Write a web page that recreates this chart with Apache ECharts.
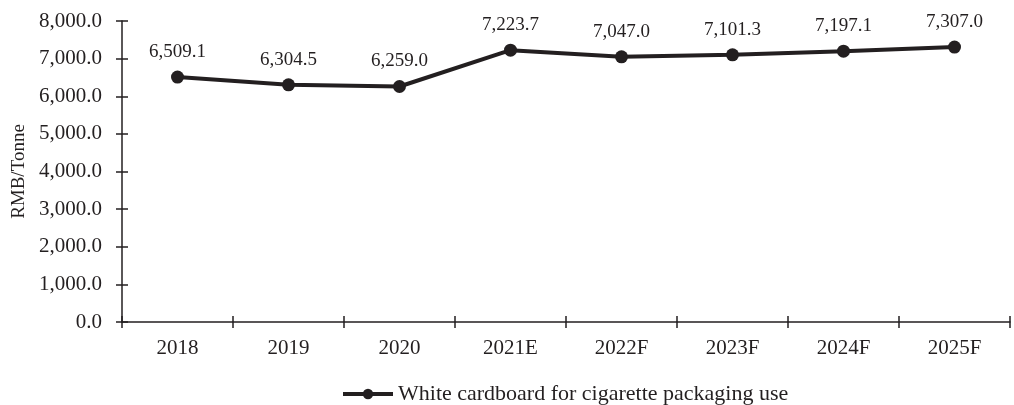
<!DOCTYPE html>
<html>
<head>
<meta charset="utf-8">
<script src="https://cdn.jsdelivr.net/npm/echarts@6/dist/echarts.min.js"></script>
<style>
  html, body { margin: 0; padding: 0; background: #fff; }
  #main { width: 1014px; height: 405px; }
</style>
</head>
<body>
<div id="main"></div>
<script>
// chart data
var years = ['2018', '2019', '2020', '2021E', '2022F', '2023F', '2024F', '2025F'];
var prices = [6509.1, 6304.5, 6259.0, 7223.7, 7047.0, 7101.3, 7197.1, 7307.0];
var seriesName = 'White cardboard for cigarette packaging use';

var ink = '#231f20';
var font = 'Liberation Serif';

function fmt(v) {
  return v.toLocaleString('en-US', { minimumFractionDigits: 1, maximumFractionDigits: 1 });
}

var chart = echarts.init(document.getElementById('main'), null, { renderer: 'canvas' });

var option = {
  textStyle: { fontFamily: font },
  grid: { left: 122, right: 4, top: 21, bottom: 83, outerBoundsMode: 'none' },
  legend: {
    left: 341,
    bottom: 0,
    padding: 0,
    itemWidth: 50,
    itemHeight: 13,
    textStyle: { fontFamily: font, fontSize: 22, color: ink },
    lineStyle: { width: 4, color: ink },
    itemStyle: { color: ink },
    data: [seriesName]
  },
  xAxis: [
    {
      type: 'category',
      data: years,
      boundaryGap: true,
      axisLine: { lineStyle: { color: ink, width: 1.5 } },
      axisTick: { show: true, length: 6, lineStyle: { color: ink, width: 1.5 } },
      axisLabel: { fontFamily: font, fontSize: 21, color: ink, margin: 16 }
    },
    {
      // second axis only for ticks that cross the line
      type: 'category',
      data: years,
      position: 'bottom',
      boundaryGap: true,
      axisLine: { show: false },
      axisTick: { show: true, inside: true, length: 6, lineStyle: { color: ink, width: 1.5 } },
      axisLabel: { show: false }
    }
  ],
  yAxis: [
    {
      type: 'value',
      min: 0,
      max: 8000,
      interval: 1000,
      name: 'RMB/Tonne',
      nameLocation: 'middle',
      nameGap: 93,
      nameTextStyle: { fontFamily: font, fontSize: 19, color: ink },
      axisLine: { show: true, lineStyle: { color: ink, width: 1.5 } },
      axisTick: { show: true, length: 6, lineStyle: { color: ink, width: 1.5 } },
      splitLine: { show: false },
      axisLabel: { fontFamily: font, fontSize: 21, color: ink, margin: 20, formatter: fmt }
    },
    {
      type: 'value',
      min: 0,
      max: 8000,
      interval: 1000,
      position: 'left',
      axisLine: { show: false },
      axisTick: { show: true, inside: true, length: 6, lineStyle: { color: ink, width: 1.5 } },
      splitLine: { show: false },
      axisLabel: { show: false }
    }
  ],
  series: [
    {
      name: seriesName,
      type: 'line',
      data: prices,
      symbol: 'circle',
      symbolSize: 13,
      lineStyle: { color: ink, width: 4 },
      itemStyle: { color: ink },
      label: {
        show: true,
        position: 'top',
        distance: 9,
        fontFamily: font,
        fontSize: 19,
        color: ink,
        formatter: function (p) { return fmt(p.value); }
      }
    }
  ]
};

chart.setOption(option);
</script>
</body>
</html>
